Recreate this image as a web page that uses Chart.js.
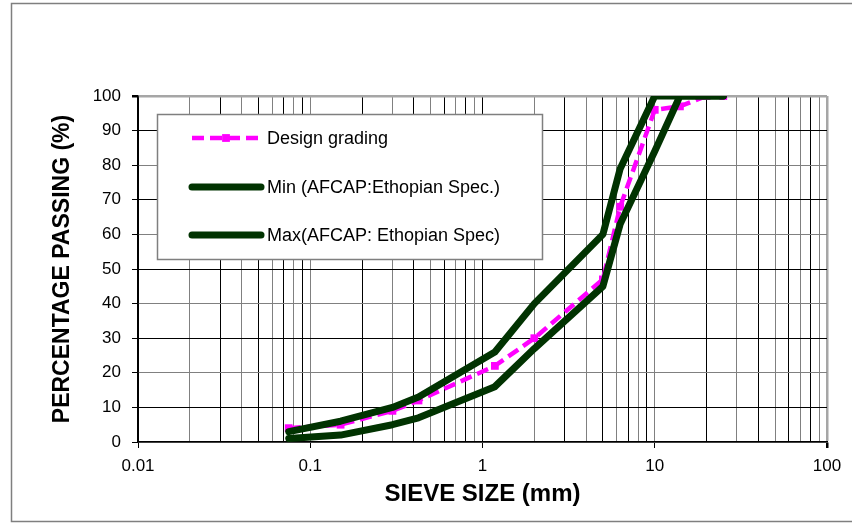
<!DOCTYPE html>
<html>
<head>
<meta charset="utf-8">
<title>Sieve grading</title>
<script src="https://cdn.jsdelivr.net/npm/chart.js@4.4.1/dist/chart.umd.min.js"></script>
<style>
    html, body { margin: 0; padding: 0; background: #fff; }
    #wrap { width: 852px; height: 525px; }
</style>
</head>
<body>
<div id="wrap"><canvas id="gradingChart" width="852" height="525"></canvas></div>
<script>
// Sieve sizes (mm) shared by all three curves
const sieveSizes = [0.075, 0.15, 0.3, 0.425, 1.18, 2, 5, 6.3, 10, 14, 20, 25];
const designGrading = [4, 5, 9, 12, 22, 30, 47, 68, 96, 97, 100, 100];
const minSpec = [1, 2, 5, 7, 16, 27, 45, 63, 84, 100, 100, 100];
const maxSpec = [3, 6, 10, 13, 26, 40, 60, 79, 100, 100, 100, 100];

const seriesNames = ['Design grading', 'Min (AFCAP:Ethopian Spec.)', 'Max(AFCAP: Ethopian Spec)'];
const xTickLabels = ['0.01', '0.1', '1', '10', '100'];
const yTickLabels = [0, 10, 20, 30, 40, 50, 60, 70, 80, 90, 100];

const decades = xTickLabels.map(Number);
// 1..9 steps inside each decade for the log grid
const xGridValues = [];
decades.forEach((d, i) => {
    if (i === decades.length - 1) { xGridValues.push(d); return; }
    for (let k = 1; k <= 9; k++) xGridValues.push(+(d * k).toPrecision(6));
});

const toPoints = vals => sieveSizes.map((s, i) => ({x: s, y: vals[i]}));

const DARK = '#013301';
const PINK = '#ff00ff';

// frame round the whole chart
const framePlugin = {
    id: 'frame',
    beforeDraw(chart) {
        const ctx = chart.ctx;
        ctx.save();
        ctx.fillStyle = '#fff';
        ctx.fillRect(0, 0, chart.width, chart.height);
        ctx.strokeStyle = '#7f7f7f';
        ctx.lineWidth = 1.5;
        ctx.strokeRect(11.5, 3.5, chart.width, 518);
        ctx.restore();
    }
};

// legend box sitting inside the plot area
const boxLegend = {
    id: 'boxLegend',
    afterDatasetsDraw(chart) {
        const ctx = chart.ctx;
        const box = {x: 157, y: 114, w: 385, h: 145};
        ctx.save();
        ctx.fillStyle = '#fff';
        ctx.fillRect(box.x, box.y, box.w, box.h);
        ctx.strokeStyle = '#7f7f7f';
        ctx.lineWidth = 1.5;
        ctx.strokeRect(box.x + 0.5, box.y + 0.5, box.w, box.h);

        const rows = [138, 187, 235];
        chart.data.datasets.forEach((ds, i) => {
            const y = rows[i];
            ctx.beginPath();
            ctx.strokeStyle = ds.borderColor;
            ctx.lineWidth = ds.borderWidth;
            ctx.lineCap = ds.borderCapStyle || 'butt';
            ctx.setLineDash(ds.borderDash || []);
            ctx.moveTo(192, y);
            ctx.lineTo(261, y);
            ctx.stroke();
            ctx.setLineDash([]);
            if (ds.pointRadius) {
                const s = ds.pointRadius * Math.SQRT1_2;
                ctx.fillStyle = ds.pointBackgroundColor;
                ctx.fillRect(226 - s, y - s, 2 * s, 2 * s);
            }
            ctx.fillStyle = '#000';
            ctx.font = '18px "Liberation Sans", Arial, sans-serif';
            ctx.textBaseline = 'middle';
            ctx.textAlign = 'left';
            ctx.fillText(ds.label, 267, y + 1);
        });
        ctx.restore();
    }
};

const ctx = document.getElementById('gradingChart').getContext('2d');
new Chart(ctx, {
    type: 'line',
    data: {
        datasets: [{
            label: seriesNames[0],
            data: toPoints(designGrading),
            borderColor: PINK,
            borderWidth: 4.5,
            borderDash: [12, 6],
            pointStyle: 'rect',
            pointRadius: 5.5,
            pointBackgroundColor: PINK,
            pointBorderWidth: 0,
            tension: 0,
            order: 3
        }, {
            label: seriesNames[1],
            data: toPoints(minSpec),
            borderColor: DARK,
            borderWidth: 7,
            borderCapStyle: 'round',
            borderJoinStyle: 'round',
            pointRadius: 0,
            tension: 0,
            order: 1
        }, {
            label: seriesNames[2],
            data: toPoints(maxSpec),
            borderColor: DARK,
            borderWidth: 7,
            borderCapStyle: 'round',
            borderJoinStyle: 'round',
            pointRadius: 0,
            tension: 0,
            order: 2
        }]
    },
    options: {
        responsive: false,
        animation: false,
        events: [],
        layout: {
            padding: {left: 0, top: 96, right: 25, bottom: 0}
        },
        plugins: {
            legend: {display: false},
            tooltip: {enabled: false}
        },
        scales: {
            x: {
                type: 'logarithmic',
                min: decades[0],
                max: decades[decades.length - 1],
                afterFit: scale => { scale.height = 83; },
                afterBuildTicks: scale => {
                    scale.ticks = xGridValues.map(v => ({value: v, major: decades.includes(v)}));
                },
                ticks: {
                    autoSkip: false,
                    maxRotation: 0,
                    padding: 8,
                    color: '#000',
                    font: {family: '"Liberation Sans", Arial, sans-serif', size: 17},
                    callback: function(value) {
                        const idx = decades.indexOf(value);
                        return idx >= 0 ? xTickLabels[idx] : '';
                    }
                },
                grid: {
                    tickLength: 6,
                    color: c => {
                        if (!c.tick) return '#000';
                        if (c.tick.value === decades[decades.length - 1]) return '#a6a6a6';
                        return c.index % 2 ? '#808080' : '#000';
                    },
                    lineWidth: c => (c.tick && c.tick.value === decades[decades.length - 1]) ? 2.5 : 1,
                    tickColor: c => (c.tick && decades.includes(c.tick.value)) ? '#000' : 'rgba(0,0,0,0)'
                },
                border: {display: true, color: '#000', width: 1.5},
                title: {
                    display: true,
                    text: 'SIEVE SIZE (mm)',
                    color: '#000',
                    font: {family: '"Liberation Sans", Arial, sans-serif', size: 24, weight: 'bold'},
                    padding: {top: 0, bottom: 16}
                }
            },
            y: {
                type: 'linear',
                min: yTickLabels[0],
                max: yTickLabels[yTickLabels.length - 1],
                afterFit: scale => { scale.width = 138; },
                afterBuildTicks: scale => {
                    scale.ticks = yTickLabels.map(v => ({value: v}));
                },
                ticks: {
                    padding: 11,
                    color: '#000',
                    font: {family: '"Liberation Sans", Arial, sans-serif', size: 17}
                },
                grid: {
                    tickLength: 6,
                    color: c => {
                        if (!c.tick) return '#000';
                        if (c.tick.value === 100) return '#a6a6a6';
                        return (c.tick.value / 10) % 2 ? '#000' : '#808080';
                    },
                    lineWidth: c => (c.tick && c.tick.value === 100) ? 2.5 : 1,
                    tickColor: '#000'
                },
                border: {display: true, color: '#000', width: 1.5},
                title: {
                    display: true,
                    text: 'PERCENTAGE PASSING (%)',
                    color: '#000',
                    font: {family: '"Liberation Sans", Arial, sans-serif', size: 23, weight: 'bold'},
                    padding: {top: 49, bottom: 0}
                }
            }
        }
    },
    plugins: [framePlugin, boxLegend]
});
</script>
</body>
</html>
